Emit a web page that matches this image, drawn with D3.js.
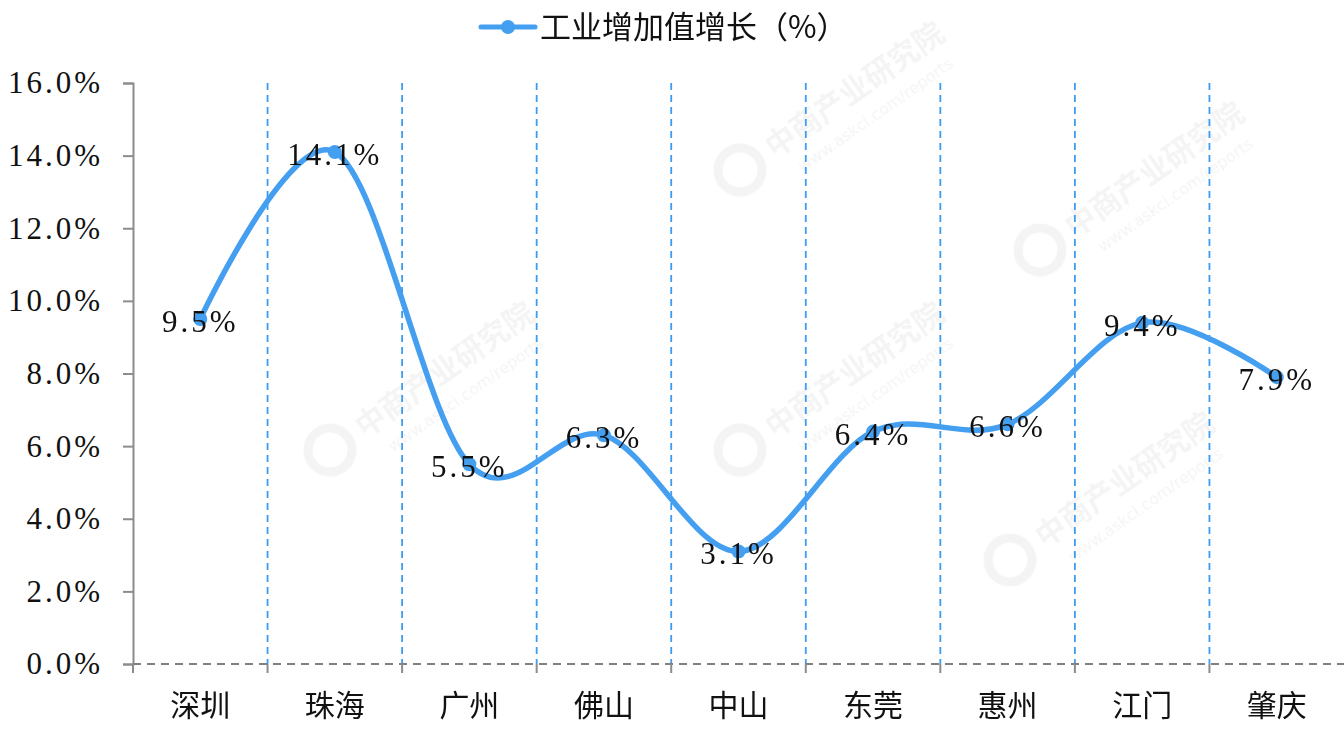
<!DOCTYPE html>
<html>
<head>
<meta charset="utf-8">
<script src="https://cdn.jsdelivr.net/npm/d3@7"></script>
<style>
  body { margin: 0; background: #fff; }
  svg { display: block; }
</style>
</head>
<body>
<svg id="chart" width="1344" height="729"></svg>
<script>
(() => {

    // chart data
    const cities = ['深圳', '珠海', '广州', '佛山', '中山', '东莞', '惠州', '江门', '肇庆'];
    const growth = [9.5, 14.1, 5.5, 6.3, 3.1, 6.4, 6.6, 9.4, 7.9];
    const y_ticks = [0, 2, 4, 6, 8, 10, 12, 14, 16];
    const series_name = '工业增加值增长（%）';

    // layout
    const left = 133, right = 1344, top = 83, bottom = 664;
    const line_color = '#459ff0';
    const num_font = '"Liberation Serif", "DejaVu Serif", serif';
    const cjk_font = '"Noto Sans CJK SC", sans-serif';

    let svg = d3.select('#chart');

    // faint watermarks (kept inside the canvas)
    let wm = svg.append('g').attr('opacity', 0.08).style('pointer-events', 'none');
    const wm_pos = [[740, 170], [330, 450], [740, 450], [1040, 250], [1010, 560]];
    wm_pos.forEach(([x, y]) => {
        let g = wm.append('g').attr('transform', `translate(${x},${y}) rotate(-35)`);
        g.append('circle').attr('cx', 0).attr('cy', 0).attr('r', 22).attr('fill', 'none')
            .attr('stroke', '#777').attr('stroke-width', 9);
        g.append('text').attr('x', 35).attr('y', 10).text('中商产业研究院')
            .style('font-family', cjk_font).style('font-size', 30).style('font-weight', 'bold').style('fill', '#777');
        g.append('text').attr('x', 50).attr('y', 38).text('www.askci.com/reports')
            .style('font-family', '"DejaVu Sans", sans-serif').style('font-size', 16).style('fill', '#777');
    });

    // scales
    let x_scale = d3.scaleBand().domain(cities).range([left, right]).padding(0);
    let y_scale = d3.scaleLinear().domain([0, 16]).range([bottom, top]);
    const bw = x_scale.bandwidth();
    const cx = (d) => x_scale(d) + bw / 2;

    // vertical dashed separators
    svg.append('g')
        .selectAll('line')
        .data(cities.slice(1))
        .enter()
        .append('line')
        .attr('x1', (d) => x_scale(d))
        .attr('x2', (d) => x_scale(d))
        .attr('y1', top)
        .attr('y2', bottom)
        .attr('stroke', '#3d9bf2')
        .attr('stroke-width', 1.8)
        .attr('stroke-dasharray', '7,5');

    // y axis
    let y_axis = d3.axisLeft(y_scale).tickValues(y_ticks).tickSize(10)
        .tickFormat((d) => d3.format('.1f')(d) + '%');
    let yg = svg.append('g').attr('transform', `translate(${left},0)`).call(y_axis);
    yg.select('.domain').attr('stroke', '#8c8c8c').attr('stroke-width', 2);
    yg.selectAll('.tick line').attr('stroke', '#8c8c8c').attr('stroke-width', 2);
    yg.selectAll('.tick text')
        .attr('x', -30)
        .style('font-family', num_font)
        .style('font-size', 31)
        .style('letter-spacing', '3px')
        .style('fill', '#111');

    // x axis (dashed baseline with boundary ticks)
    svg.append('line')
        .attr('x1', left).attr('x2', right)
        .attr('y1', y_scale(0)).attr('y2', y_scale(0))
        .attr('stroke', '#808080').attr('stroke-width', 2)
        .attr('stroke-dasharray', '8,6');
    svg.append('g')
        .selectAll('line')
        .data(cities)
        .enter()
        .append('line')
        .attr('x1', (d) => x_scale(d))
        .attr('x2', (d) => x_scale(d))
        .attr('y1', y_scale(0))
        .attr('y2', y_scale(0) + 9)
        .attr('stroke', '#8c8c8c')
        .attr('stroke-width', 2);
    svg.append('g')
        .selectAll('text')
        .data(cities)
        .enter()
        .append('text')
        .attr('x', cx)
        .attr('y', 716)
        .text((d) => d)
        .style('font-family', cjk_font)
        .style('font-size', 30)
        .style('text-anchor', 'middle')
        .style('fill', '#111');

    // smoothed line
    let pts = cities.map((c, i) => ({ city: c, v: growth[i] }));
    svg.append('path')
        .datum(pts)
        .attr('fill', 'none')
        .attr('stroke', line_color)
        .attr('stroke-width', 5.5)
        .attr('stroke-linecap', 'round')
        .attr('d', d3.line()
            .x((d) => cx(d.city))
            .y((d) => y_scale(d.v))
            .curve(d3.curveCatmullRom.alpha(0)));

    svg.selectAll('.dot')
        .data(pts)
        .enter()
        .append('circle')
        .attr('cx', (d) => cx(d.city))
        .attr('cy', (d) => y_scale(d.v))
        .attr('r', 7)
        .attr('fill', line_color);

    // value labels
    svg.selectAll('.lbl')
        .data(pts)
        .enter()
        .append('text')
        .attr('x', (d) => cx(d.city))
        .attr('y', (d) => y_scale(d.v) + 13)
        .text((d) => d3.format('.1f')(d.v) + '%')
        .style('font-family', num_font)
        .style('font-size', 31)
        .style('letter-spacing', '3px')
        .style('text-anchor', 'middle')
        .style('fill', '#111');

    // legend
    svg.append('line')
        .attr('x1', 481).attr('x2', 535).attr('y1', 27).attr('y2', 27)
        .attr('stroke', line_color).attr('stroke-width', 5).attr('stroke-linecap', 'round');
    svg.append('circle').attr('cx', 508).attr('cy', 27).attr('r', 7).attr('fill', line_color);
    svg.append('text')
        .attr('x', 540).attr('y', 38)
        .text(series_name)
        .style('font-family', cjk_font)
        .style('font-size', 31)
        .style('fill', '#111');

})();
</script>
</body>
</html>
